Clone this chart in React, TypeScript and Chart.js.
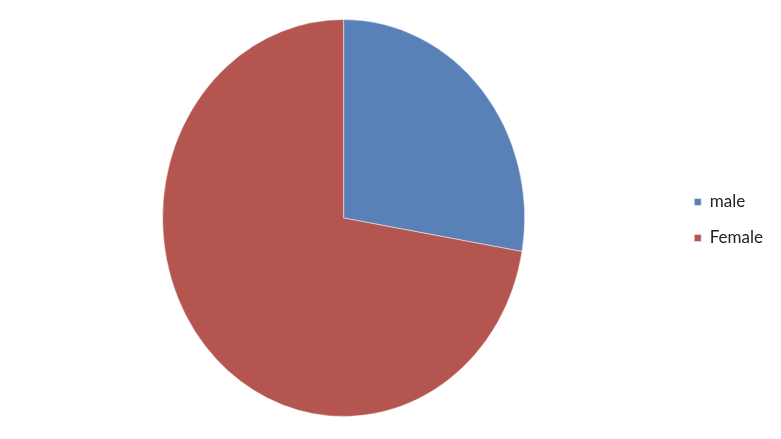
import { useEffect, useRef } from "react"
import { Chart, registerables } from "chart.js"

Chart.register(...registerables)

const labels = ["male", "Female"]
const values = [27.7, 72.3]
const colors = ["#5A80B8", "#B4564F"]

// the original pie is a little narrower than tall
const squeeze = {
  id: "squeeze",
  afterLayout(chart: Chart) {
    // nudge the legend down a touch
    const legend: any = (chart as any).legend
    if (legend) {
      legend.top += 2
      legend.bottom += 2
    }
  },
  beforeDatasetsDraw(chart: Chart) {
    const arc: any = chart.getDatasetMeta(0).data[0]
    if (!arc) return
    const ctx = chart.ctx
    ctx.save()
    ctx.translate(arc.x, 0)
    ctx.scale(0.912, 1)
    ctx.translate(-arc.x, 0)
  },
  afterDatasetsDraw(chart: Chart) {
    chart.ctx.restore()
  },
}

export default function App() {
  const chartRef = useRef<HTMLCanvasElement>(null)
  const chartInstance = useRef<Chart | null>(null)

  useEffect(() => {
    if (!chartRef.current) return
    if (chartInstance.current) chartInstance.current.destroy()

    chartInstance.current = new Chart(chartRef.current, {
      type: "pie",
      data: {
        labels,
        datasets: [
          {
            data: values,
            backgroundColor: colors,
            borderColor: "rgba(255, 255, 255, 0.5)",
            borderWidth: 1,
          },
        ],
      },
      options: {
        responsive: true,
        maintainAspectRatio: false,
        animation: false,
        layout: { padding: { top: 19, bottom: 22, left: 12, right: 8 } },
        plugins: {
          legend: {
            position: "right",
            labels: {
              boxWidth: 7,
              boxHeight: 7,
              padding: 19,
              color: "#222",
              font: { family: "Lato", size: 17 },
            },
          },
          tooltip: { enabled: false },
        },
      },
      plugins: [squeeze],
    })

    return () => {
      if (chartInstance.current) {
        chartInstance.current.destroy()
        chartInstance.current = null
      }
    }
  }, [])

  return (
    <div style={{ position: "absolute", left: 0, top: 0, width: 781, height: 439, background: "#fff" }}>
      <canvas ref={chartRef} />
    </div>
  )
}
